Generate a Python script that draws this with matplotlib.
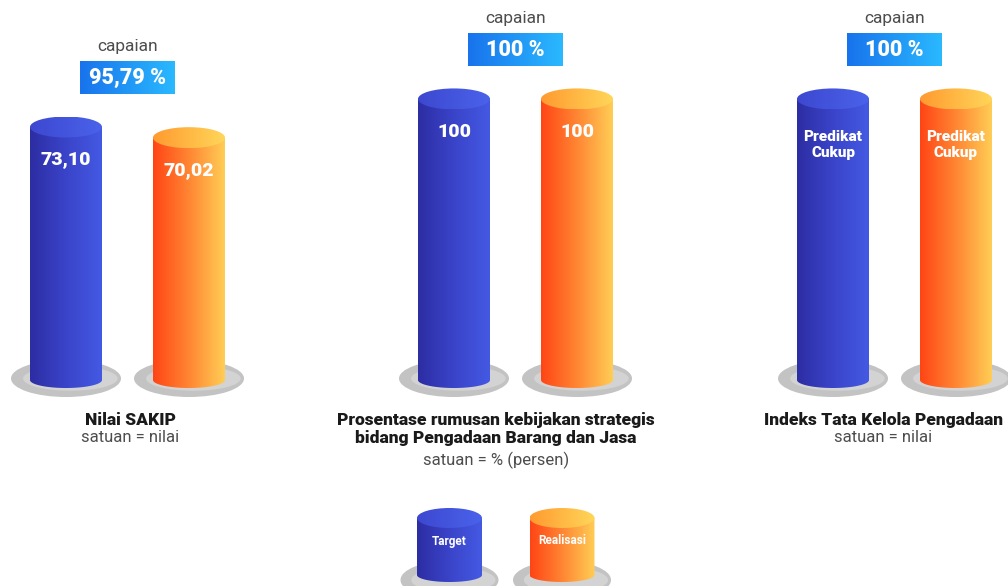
import numpy as np
import matplotlib
matplotlib.use('Agg')
import matplotlib.pyplot as plt
from matplotlib.patches import Ellipse, PathPatch
from matplotlib.path import Path
from matplotlib.colors import LinearSegmentedColormap

# --- data ---
indikator = ['Nilai SAKIP',
             'Prosentase rumusan kebijakan strategis\nbidang Pengadaan Barang dan Jasa',
             'Indeks Tata Kelola Pengadaan']
satuan = ['satuan = nilai', 'satuan = % (persen)', 'satuan = nilai']
capaian = ['95,79 %', '100 %', '100 %']
target = [73.10, 100, 100]
realisasi = [70.02, 100, 100]
label_target = ['73,10', '100', 'Predikat\nCukup']
label_realisasi = ['70,02', '100', 'Predikat\nCukup']
seri = ['Target', 'Realisasi']

# --- layout (pixels) ---
W, H = 1008, 586
group_x = [66, 454, 833]        # centre of the target cylinder
text_x = [130, 496, 883]
cap_y = [46, 18, 18]
box_y = [61, 33, 33]
base_y = 380
ytop = [109.8, 135.2, 135.2]    # value at the top of each group axes
label_off = [32, 33, 46]
font_fs = [14, 14, 11]

FONT = 'Roboto'
GREY = '#4d4d4d'

cm_blue = LinearSegmentedColormap.from_list('b', ['#2d2da3', '#3a44c9', '#4459e3'])
cm_blue_top = LinearSegmentedColormap.from_list('bt', ['#3d48d0', '#4a62ea'])
cm_orange = LinearSegmentedColormap.from_list('o', ['#ff4515', '#ff8633', '#ffcd55'])
cm_orange_top = LinearSegmentedColormap.from_list('ot', ['#ff9a30', '#ffd659'])
cm_box = LinearSegmentedColormap.from_list('c', ['#1873ec', '#2ab9ff'])
grad = np.linspace(0, 1, 256).reshape(1, -1)


def cylinder(ax, x, y0, y1, w, ry0, ry1, cm_body, cm_top, z=3):
    s = 1 if y0 > y1 else -1
    t = np.linspace(np.pi, 0, 80)
    verts = [(x - w / 2, y1)] + list(zip(x + w / 2 * np.cos(t), y0 + s * ry0 * np.sin(t)))
    verts += [(x + w / 2, y1), (x - w / 2, y1)]
    body = PathPatch(Path(verts, closed=True), transform=ax.transData)
    lo, hi = sorted([y0 + s * ry0, y1])
    im = ax.imshow(grad, cmap=cm_body, extent=[x - w / 2, x + w / 2, lo, hi],
                   aspect='auto', zorder=z, interpolation='bilinear')
    im.set_clip_path(body)
    top = Ellipse((x, y1), w, 2 * ry1, transform=ax.transData)
    im2 = ax.imshow(grad, cmap=cm_top, extent=[x - w / 2, x + w / 2, y1 - ry1, y1 + ry1],
                    aspect='auto', zorder=z + 1, interpolation='bilinear')
    im2.set_clip_path(top)


def shadow(ax, x, y, w, h):
    ax.add_patch(Ellipse((x, y), w, h, facecolor='#c3c3c3', edgecolor='none', zorder=1))
    ax.add_patch(Ellipse((x + 0.04 * w, y), 0.86 * w, 0.66 * h, facecolor='#d3d3d3',
                         edgecolor='none', zorder=1))


fig = plt.figure(figsize=(W / 100, H / 100), dpi=100)
bg = fig.add_axes([0, 0, 1, 1])

# titles, capaian boxes
for g in range(3):
    cx = group_x[g] + 61.5
    bg.text(cx, cap_y[g], 'capaian', ha='center', va='center', fontsize=12.5,
            family=FONT, fontweight='normal', color=GREY)
    bg.imshow(grad, cmap=cm_box, extent=[cx - 47.5, cx + 47.5, box_y[g] + 33, box_y[g]],
              aspect='auto', zorder=2)
    bg.text(cx, box_y[g] + 17, capaian[g], ha='center', va='center', fontsize=15.5,
            family=FONT, fontweight='heavy', color='white', zorder=3)
    nl = indikator[g].count('\n')
    bg.text(text_x[g], 420 + nl * 9, indikator[g], ha='center', va='center',
            fontsize=12.5, family=FONT, fontweight='heavy', color='#1a1a1a', linespacing=1.15)
    bg.text(text_x[g], 438 + nl * 22, satuan[g], ha='center', va='center', fontsize=12,
            family=FONT, fontweight='normal', color=GREY)

# legend
leg_x = [449.5, 562]
for i, (cmb, cmt) in enumerate([(cm_blue, cm_blue_top), (cm_orange, cm_orange_top)]):
    shadow(bg, leg_x[i], 580, 98, 38)
    cylinder(bg, leg_x[i], 575, 518, 65, 7, 10, cmb, cmt)
    bg.text(leg_x[i], 541, seri[i], ha='center', va='center', fontsize=8.5,
            family=FONT, fontweight='bold', color='white', zorder=6)

bg.set_xlim(0, W)
bg.set_ylim(H, 0)
bg.axis('off')

# cylinders per indicator
for g in range(3):
    ax = fig.add_axes([(group_x[g] - 123) / W, 0, 369 / W, 1])
    ppu = base_y / ytop[g]
    w = 72 / 123
    vals = [target[g], realisasi[g]]
    labs = [label_target[g], label_realisasi[g]]
    cms = [(cm_blue, cm_blue_top), (cm_orange, cm_orange_top)]
    for i in range(2):
        shadow(ax, i, 1.5 / ppu, 110 / 123, 37 / ppu)
        cylinder(ax, i, 0, vals[i], w, 8 / ppu, 10.5 / ppu, cms[i][0], cms[i][1])
        ax.text(i, vals[i] - label_off[g] / ppu, labs[i], ha='center', va='center',
                fontsize=font_fs[g], family=FONT, fontweight='heavy', color='white',
                zorder=6, linespacing=1.25)
    ax.set_xlim(-1, 2)
    ax.set_ylim(-(H - base_y) / ppu, ytop[g])
    ax.axis('off')

fig.savefig('out.png', dpi=100)
